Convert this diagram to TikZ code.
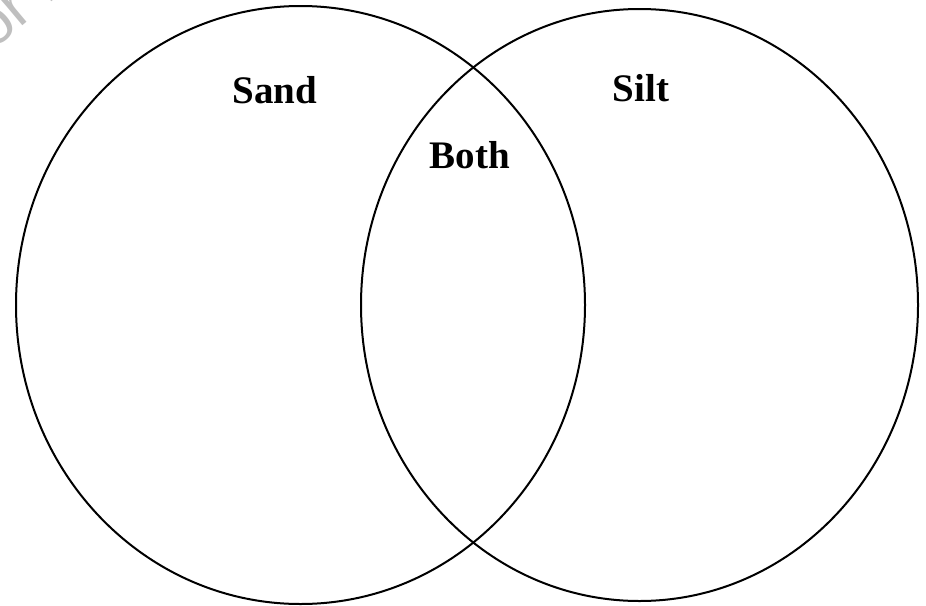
\documentclass[tikz,border=0pt]{standalone}
\usepackage{fontspec}
\setmainfont{Liberation Serif}
\newfontfamily\wmfont{Liberation Sans}
\begin{document}
\begin{tikzpicture}[x=1pt,y=-1pt,
  lbl/.style={font=\fontsize{39}{44}\selectfont\bfseries, inner sep=0pt, anchor=base},
  ring/.style={draw=black, line width=2pt},
  wm/.style={font=\wmfont\fontsize{62}{70}\selectfont, text=black!25, inner sep=0pt, anchor=base west, rotate=40}]
\useasboundingbox (0,0) rectangle (926,605);
\clip (0,0) rectangle (926,605);
\node[wm] (wmark) at (-20,62) {for n};
\draw[ring] (300.5,305) ellipse [x radius=284.5, y radius=299];
\draw[ring] (639.5,305) ellipse [x radius=278.5, y radius=296];
\node[lbl] (sand) at (275,103) {Sand};
\node[lbl] (silt) at (641,101) {Silt};
\node[lbl] (both) at (470,168) {Both};
\end{tikzpicture}
\end{document}
